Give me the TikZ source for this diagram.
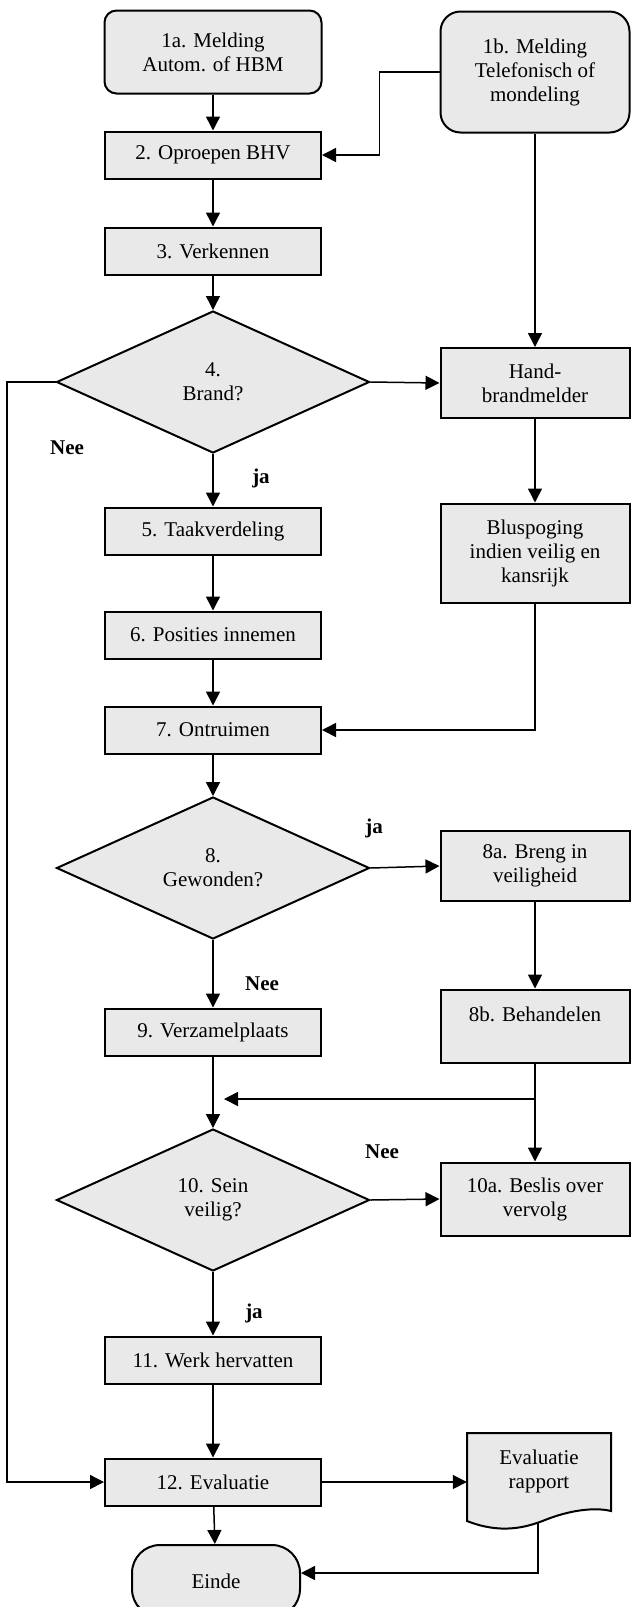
\documentclass[tikz,border=0pt]{standalone}
\usepackage{fontspec}
\setmainfont{Liberation Serif}
\usetikzlibrary{shapes.geometric,arrows.meta}
\definecolor{vakgrijs}{RGB}{233,233,233}

\begin{document}
\begin{tikzpicture}[x=1pt,y=-1pt,font=\fontsize{21}{24}\selectfont,
	stap/.style={draw,fill=vakgrijs,line width=2pt,minimum width=216pt,minimum height=47pt,inner sep=0pt,align=center},
	zijstap/.style={stap,minimum width=189pt},
	keuze/.style={diamond,draw,fill=vakgrijs,line width=2pt,minimum width=313pt,minimum height=142pt,inner sep=0pt,align=center},
	pijl/.style={line width=1.5pt,-{Triangle[length=14pt,width=14pt]}},
	antw/.style={font=\fontsize{21}{24}\selectfont\bfseries}]
	\useasboundingbox (0,0) rectangle (630,1607);

	\node[stap,minimum width=217pt,minimum height=83pt,rounded corners=12pt] (m1a) at (213,52) {1a. Melding\\Autom. of HBM};
	\node[zijstap,minimum height=121pt,rounded corners=20pt] (m1b) at (535,72) {1b. Melding\\Telefonisch of\\mondeling};
	\node[stap] (s2) at (213,155) {2. Oproepen BHV};
	\node[stap] (s3) at (213,251) {3. Verkennen};
	\node[keuze] (k4) at (213,382) {4.\\Brand?};
	\node[zijstap,minimum height=70pt] (hand) at (535,383) {Hand-\\brandmelder};
	\node[zijstap,minimum height=99pt] (blus) at (535,553) {Bluspoging\\indien veilig en\\kansrijk};
	\node[stap] (s5) at (213,531) {5. Taakverdeling};
	\node[stap] (s6) at (213,635) {6. Posities innemen};
	\node[stap] (s7) at (213,730) {7. Ontruimen};
	\node[keuze] (k8) at (213,868) {8.\\Gewonden?};
	\node[zijstap,minimum height=70pt] (s8a) at (535,866) {8a. Breng in\\veiligheid};
	\node[zijstap,minimum height=73pt] (s8b) at (535,1026) {8b. Behandelen\\\mbox{}};
	\node[stap] (s9) at (213,1032) {9. Verzamelplaats};
	\node[keuze] (k10) at (213,1200) {10. Sein\\veilig?};
	\node[zijstap,minimum height=73pt] (s10a) at (535,1199) {10a. Beslis over\\vervolg};
	\node[stap] (s11) at (213,1360) {11. Werk hervatten};
	\node[stap] (s12) at (213,1482) {12. Evaluatie};
	\node[stap,minimum width=168pt,minimum height=72pt,rounded corners=28pt] (einde) at (216,1581) {Einde};

	\draw[fill=vakgrijs,line width=2pt] (467,1433) -- (611,1433) -- (611,1511) .. controls (595,1507) and (570,1510) .. (545,1520) .. controls (525,1528) and (500,1534) .. (467,1521) -- cycle;
	\node[align=center,minimum width=144pt,minimum height=80pt,inner sep=0pt] (rap) at (539,1471) {Evaluatie\\rapport};
	\coordinate (rapvoet) at (538,1523);

	\node[antw] (nee4) at (67,448) {Nee};
	\node[antw] (ja4) at (261,478) {ja};
	\node[antw] (ja8) at (374,828) {ja};
	\node[antw] (nee8) at (262,984) {Nee};
	\node[antw] (nee10) at (382,1152) {Nee};
	\node[antw] (ja10) at (254,1313) {ja};

	\draw[pijl] (m1a) -- (s2);
	\draw[pijl] (m1b.west) -- ++(-60,0) |- (s2.east);
	\draw[pijl] (s2) -- (s3);
	\draw[pijl] (s3) -- (k4);
	\draw[pijl] (m1b) -- (hand);
	\draw[pijl] (k4.east) -- (hand.west);
	\draw[pijl] (hand) -- (blus);
	\draw[pijl] (k4.west) -- ++(-48.5,0) |- (s12.west);
	\draw[pijl] (k4) -- (s5);
	\draw[pijl] (s5) -- (s6);
	\draw[pijl] (s6) -- (s7);
	\draw[pijl] (blus.south) |- (s7.east);
	\draw[pijl] (s7) -- (k8);
	\draw[pijl] (k8.east) -- (s8a.west);
	\draw[pijl] (s8a) -- (s8b);
	\draw[pijl] (k8) -- (s9);
	\draw[pijl] (s9) -- (k10);
	\draw[pijl] (s8b) -- (s10a);
	\coordinate (tak) at (535,1099);
	\coordinate (takeind) at (224,1099);
	\draw[pijl] (tak) -- (takeind);
	\draw[pijl] (k10.east) -- (s10a.west);
	\draw[pijl] (k10) -- (s11);
	\draw[pijl] (s11) -- (s12);
	\draw[pijl] (s12.east) -- (s12.east -| rap.west);
	\draw[pijl] (s12) -- (einde);
	\draw[pijl] (rapvoet) |- ([yshift=8pt]einde.east);
\end{tikzpicture}
\end{document}
